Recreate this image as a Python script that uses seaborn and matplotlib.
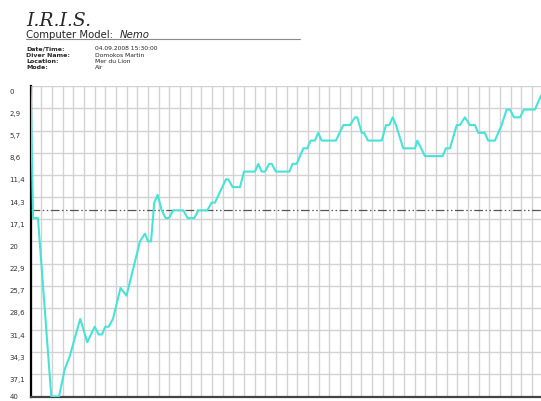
import matplotlib
matplotlib.use("Agg")
import matplotlib.pyplot as plt
import matplotlib.transforms as mtransforms
from matplotlib.lines import Line2D
import numpy as np
import pandas as pd
import seaborn as sns

#%% Dive profile (minutes, metres)
dive_time = [0.0, 0.22, 0.68, 1.93, 2.65, 3.19, 3.66, 4.43, 4.65, 5.30, 6.00, 6.37,
             6.68, 6.99, 7.31, 7.71, 8.42, 8.98, 10.24, 10.71, 10.99, 11.28, 11.58,
             11.90, 12.28, 12.65, 12.96, 13.36, 14.30, 14.71, 15.33, 15.71, 16.55,
             16.96, 17.27, 18.30, 18.52, 18.93, 19.62, 19.99, 21.02, 21.33, 21.65,
             21.96, 22.36, 22.59, 22.99, 24.24, 24.55, 24.93, 25.24, 25.55, 25.92,
             26.24, 26.64, 26.95, 27.27, 28.61, 29.30, 29.93, 30.40, 30.61, 31.02,
             31.24, 31.61, 32.90, 33.30, 33.61, 33.93, 34.24, 34.92, 36.02, 36.24,
             36.95, 38.61, 38.92, 39.30, 39.93, 40.23, 40.70, 41.17, 41.64, 41.95,
             42.57, 42.88, 43.51, 44.14, 44.61, 44.92, 45.30, 45.86, 46.23, 47.26,
             47.83]
dive_depth = [0, 17, 17, 40, 40, 36.5, 34.8, 31, 30, 33, 31, 32,
              32, 31, 31, 30, 26, 27, 20, 19, 20, 20, 15,
              14, 16, 17, 17, 16, 16, 17, 17, 16, 16,
              15, 15, 12, 12, 13, 13, 11, 11, 10, 11,
              11, 10, 10, 11, 11, 10, 10, 9, 8, 8,
              7, 7, 6, 7, 7, 5, 5, 4, 4, 6,
              6, 7, 7, 5, 5, 4, 5, 8, 8, 7,
              9, 9, 8, 8, 5, 5, 4, 5, 5, 6,
              6, 7, 7, 5, 3, 3, 4, 4, 3, 3,
              1.2]
limit_depth = 16
max_depth = 40
depth_ticks = np.linspace(0, max_depth, 15)
depth_labels = ['0', '2,9', '5,7', '8,6', '11,4', '14,3', '17,1', '20', '22,9',
                '25,7', '28,6', '31,4', '34,3', '37,1', '40']

info_keys = ['Date/Time:', 'Diver Name:', 'Location:', 'Mode:']
info_values = ['04.09.2008 15:30:00', 'Domokos Martin', 'Mer du Lion', 'Air']

data = pd.DataFrame({'time': dive_time, 'depth': dive_depth})

#%% Figure
W, H = 541, 402
sns.set_style("white")
plt.rcParams['font.family'] = ['DejaVu Sans']
fig = plt.figure(figsize=(W / 100, H / 100), dpi=100)
ax = fig.add_axes([30.7 / W, 4.5 / H, 1 - 30.7 / W, 310.2 / H])

sns.lineplot(data=data, x='time', y='depth', color='#48e3d6', linewidth=1.5,
             ax=ax, zorder=4)
ax.axhline(limit_depth, color='#555555', linewidth=0.9,
           linestyle=(0, (7, 2, 1.2, 2, 1.2, 2)), zorder=3)

ax.set_xlim(0, dive_time[-1])
ax.set_ylim(max_depth, 0)
ax.set_xticks(np.arange(0, 48))
ax.set_xticklabels([])
ax.set_yticks(depth_ticks)
ax.set_yticklabels(depth_labels)
ax.set_xlabel('')
ax.set_ylabel('')
ax.grid(True, color='#d2d2d2', linewidth=1)
ax.tick_params(axis='both', length=0)
ax.tick_params(axis='y', pad=15.2, labelsize=5, labelcolor='#333333')

# labels sit a little under their grid line, the last one must stay inside
ticks = ax.yaxis.get_major_ticks()
for i, tick in enumerate(ticks):
    shift = -4 if i < len(ticks) - 1 else 1
    offset = mtransforms.ScaledTranslation(0, shift / 100, fig.dpi_scale_trans)
    tick.label1.set_horizontalalignment('left')
    tick.label1.set_transform(tick.label1.get_transform() + offset)

for side in ['top', 'right']:
    ax.spines[side].set_visible(False)
ax.spines['left'].set_color('black')
ax.spines['left'].set_linewidth(1.6)
ax.spines['bottom'].set_color('#444444')
ax.spines['bottom'].set_linewidth(1.6)

#%% Header
def fy(py):
    return 1 - py / H

fig.text(26.5 / W, fy(26), 'I.R.I.S.', fontsize=13.5, family='DejaVu Serif',
         style='italic', va='baseline')
fig.text(26.5 / W, fy(37.5), 'Computer Model:', fontsize=7.3, va='baseline')
fig.text(119.3 / W, fy(37.5), 'Nemo', fontsize=7.3, style='italic', va='baseline')
fig.add_artist(Line2D([26 / W, 300 / W], [fy(39.8), fy(39.8)],
                      color='#8a8a8a', linewidth=0.8))

for i, (k, v) in enumerate(zip(info_keys, info_values)):
    yy = fy(49 + i * 6.25)
    fig.text(26.5 / W, yy, k, fontsize=4.5, fontweight='bold', va='center')
    fig.text(95 / W, yy, v, fontsize=4.3, va='center', color='#222222')

fig.savefig('out.png', dpi=100)
